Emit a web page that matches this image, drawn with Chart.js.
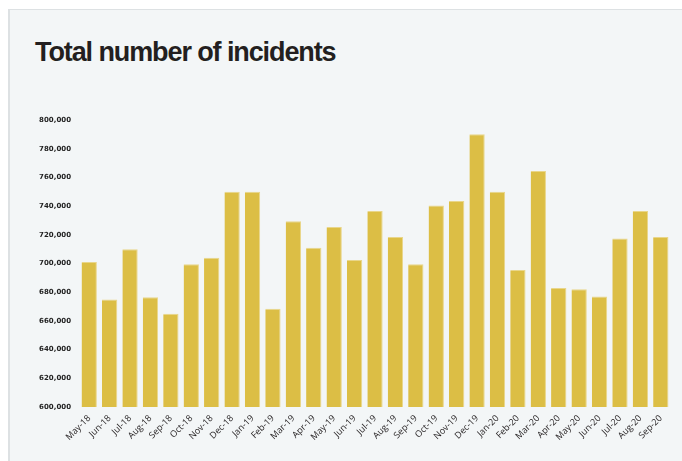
<!DOCTYPE html>
<html>
<head>
<meta charset="utf-8">
<script src="https://cdn.jsdelivr.net/npm/chart.js@4"></script>
<style>
  html, body { margin: 0; padding: 0; background: #ffffff; }
  body { width: 682px; height: 461px; position: relative; overflow: hidden; }
  .panel {
    position: absolute; left: 8px; top: 9px; width: 680px; height: 460px;
    background: #f3f6f7; border-left: 2px solid #dde1e3; border-top: 1px solid #dde1e3;
  }
  h1 {
    position: absolute; left: 35px; top: 37px; margin: 0; line-height: normal;
    font-family: "Liberation Sans", Arial, sans-serif;
    font-weight: bold; font-size: 27px; letter-spacing: -1.1px; color: #231f20;
  }
  #chart { position: absolute; left: 0; top: 0; }
</style>
</head>
<body>
<div class="panel"></div>
<h1>Total number of incidents</h1>
<canvas id="chart" width="682" height="461"></canvas>
<script>
// Monate (x-Achse)
const months = [
  "May-18", "Jun-18", "Jul-18", "Aug-18", "Sep-18", "Oct-18", "Nov-18", "Dec-18",
  "Jan-19", "Feb-19", "Mar-19", "Apr-19", "May-19", "Jun-19", "Jul-19", "Aug-19",
  "Sep-19", "Oct-19", "Nov-19", "Dec-19", "Jan-20", "Feb-20", "Mar-20", "Apr-20",
  "May-20", "Jun-20", "Jul-20", "Aug-20", "Sep-20"
];

// Anzahl Vorfälle pro Monat
const incidents = [
  701000, 675000, 710000, 676500, 665000, 699500, 704000, 750000,
  750000, 668500, 729500, 711000, 725500, 702500, 736500, 718500,
  699500, 740500, 743500, 790000, 750000, 695500, 764500, 683000,
  682000, 677000, 717500, 736500, 718500
];

// y-Achse
const yMin = 600000;
const yMax = 800000;
const yStep = 20000;

document.addEventListener("DOMContentLoaded", () => {
  const ctx = document.getElementById("chart").getContext("2d");

  new Chart(ctx, {
    type: "bar",
    data: {
      labels: months,
      datasets: [{
        label: "Total number of incidents",
        data: incidents,
        backgroundColor: "#dcbe45",
        borderColor: "#e9d68a",
        borderWidth: { top: 1, right: 1, left: 0, bottom: 0 },
        barPercentage: 0.75,
        categoryPercentage: 1.0,
      }]
    },
    options: {
      responsive: false,
      animation: false,
      layout: { padding: { top: 120, right: 11, bottom: 0, left: 0 } },
      plugins: { legend: { display: false }, tooltip: { enabled: false } },
      scales: {
        y: {
          min: yMin,
          max: yMax,
          afterFit: (scale) => { scale.width = 79; },
          grid: { display: false, drawTicks: false },
          border: { display: false },
          ticks: {
            stepSize: yStep,
            padding: 8,
            color: "#1e1e1e",
            font: { family: "DejaVu Sans", weight: "bold", size: 7 },
            callback: (v) => v.toLocaleString("en-US"),
          },
        },
        x: {
          afterFit: (scale) => { scale.height = 54; },
          grid: { display: false, drawTicks: false },
          border: { display: false },
          ticks: {
            autoSkip: false,
            minRotation: 45,
            maxRotation: 45,
            padding: 6,
            color: "#231f20",
            font: { family: "Open Sans", size: 9 },
          },
        },
      },
    },
  });
});
</script>
</body>
</html>
